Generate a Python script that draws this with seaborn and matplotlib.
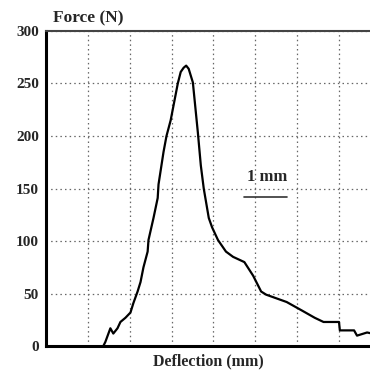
import pandas as pd
import matplotlib.pyplot as plt
import seaborn as sns

# Force-deflection curve (x in mm from axis origin)
deflection = [0.0, 1.37, 1.42, 1.54, 1.61, 1.71, 1.78, 1.90, 2.02, 2.09, 2.19, 2.26,
              2.33, 2.43, 2.45, 2.57, 2.67, 2.69, 2.81, 2.88, 2.98, 3.15, 3.22, 3.29,
              3.35, 3.41, 3.51, 3.63, 3.70, 3.77, 3.89, 3.97, 4.11, 4.30, 4.47, 4.74,
              4.95, 5.14, 5.26, 5.75, 6.11, 6.42, 6.63, 7.00, 7.02, 7.36, 7.43, 7.67, 7.79]
force = [0, 0, 4, 17, 12, 17, 23, 27, 32, 41, 52, 61,
         75, 90, 101, 122, 141, 154, 185, 200, 215, 250, 261, 265,
         267, 264, 251, 203, 172, 150, 122, 113, 101, 90, 85, 80,
         67, 52, 49, 42, 34, 27, 23, 23, 15, 15, 10, 13, 12]
y_ticks = [0, 50, 100, 150, 200, 250, 300]
x_grid = [1, 2, 3, 4, 5, 6, 7]

df = pd.DataFrame({"Deflection": deflection, "Force": force})

sns.set_style("white")
plt.rcParams['font.family'] = ['Liberation Serif', 'DejaVu Serif']

fig = plt.figure(figsize=(3.70, 3.73), dpi=100)
ax = fig.add_axes([0.124, 0.072, 0.876, 0.845])

sns.lineplot(data=df, x="Deflection", y="Force", color="black", linewidth=1.6, ax=ax)

ax.set_xlim(0, 7.74)
ax.set_ylim(0, 300)
ax.set_yticks(y_ticks)
ax.set_yticklabels([str(t) for t in y_ticks], fontweight="bold", fontsize=11)
ax.set_xticks(x_grid)
ax.set_xticklabels([])
ax.grid(True, linestyle=(0, (1.2, 2.5)), color="#666666", linewidth=0.9)
ax.tick_params(axis="both", direction="out", length=3, width=1.2, color="black", pad=2)

for side in ["left", "bottom"]:
    ax.spines[side].set_color("black")
    ax.spines[side].set_linewidth(2.2)
ax.spines["top"].set_color("#444444")
ax.spines["top"].set_linewidth(1.5)
ax.spines["right"].set_visible(False)

ax.set_xlabel("Deflection (mm)", fontweight="bold", fontsize=11.5, labelpad=0)
ax.set_ylabel("")
fig.text(0.143, 0.952, "Force (N)", fontweight="bold", fontsize=12.5, va="center", ha="left")

# 1 mm scale bar
ax.text(5.29, 161, "1 mm", fontweight="bold", fontsize=12, ha="center", va="center")
ax.plot([4.74, 5.75], [142, 142], color="#333333", linewidth=1.2)

fig.savefig("out.png", dpi=100)
